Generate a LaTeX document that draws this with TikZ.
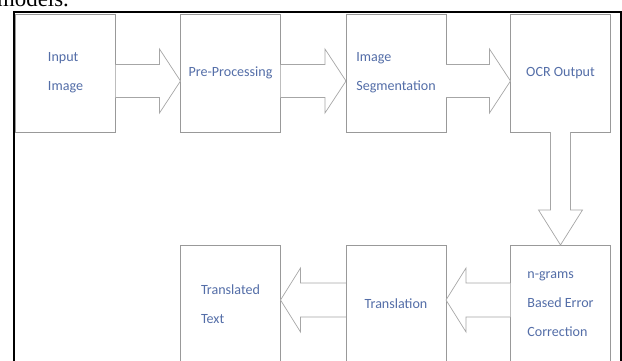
\documentclass[tikz,border=0pt]{standalone}
\usepackage{fontspec}
\setmainfont{Carlito}
\newfontfamily\paperfont{Liberation Serif}
\usetikzlibrary{calc}
\definecolor{boxtext}{rgb}{0.33,0.43,0.66}
\tikzset{
  stage/.style={draw=black!40,line width=1pt,fill=white,minimum width=4cm,minimum height=4.72cm,
    inner sep=0pt,outer sep=0pt,text=boxtext,align=left,font=\fontsize{16}{33}\selectfont},
  hollow/.style={draw=black!35,line width=0.8pt,fill=white,line join=miter}
}
\begin{document}
\begin{tikzpicture}[x=0.04cm,y=-0.04cm]
    \useasboundingbox (0,0) rectangle (622,361);
    % Text der Seite und Rahmen
    \node[font=\paperfont\fontsize{26}{30}\selectfont,anchor=base west,inner sep=0pt] (txt) at (-3,6) {models.};
    \draw[line width=1.5pt] (14,380) -- (14,12) -- (621,12) -- (621,380);
    % Bloecke
    \node[stage] (in) at (65.5,73) {Input\\Image};
    \node[stage] (pre) at (230.5,73) {Pre-Processing};
    \node[stage] (seg) at (396,73) {Image\\Segmentation};
    \node[stage] (ocr) at (560.5,73) {OCR Output};
    \node[stage] (err) at (560.5,304) {n-grams\\Based Error\\Correction};
    \node[stage] (trans) at (396,304) {Translation};
    \node[stage] (out) at (230.5,304) {Translated\\Text};
    % Pfeile nach rechts
    \foreach \a/\b in {in/pre,pre/seg,seg/ocr}
    \draw[hollow] ($(\a.east)+(0,-8.5)$) -- ($(\b.west)+(-21,-8.5)$) -- ($(\b.west)+(-21,-24)$)
      -- ($(\b.west)+(0,8)$) -- ($(\b.west)+(-21,40)$) -- ($(\b.west)+(-21,24.5)$) -- ($(\a.east)+(0,24.5)$);
    % Pfeil nach unten
    \draw[hollow] ($(ocr.south)+(-10,0)$) -- ($(err.north)+(-10,-35)$) -- ($(err.north)+(-22,-35)$)
      -- (err.north) -- ($(err.north)+(22,-35)$) -- ($(err.north)+(10,-35)$) -- ($(ocr.south)+(10,0)$);
    % Pfeile nach links
    \foreach \a/\b in {err/trans,trans/out}
    \draw[hollow] ($(\a.west)+(0,-21)$) -- ($(\b.east)+(20,-21)$) -- ($(\b.east)+(20,-36)$)
      -- ($(\b.east)+(0,-4)$) -- ($(\b.east)+(20,28)$) -- ($(\b.east)+(20,13)$) -- ($(\a.west)+(0,13)$);
  \end{tikzpicture}
\end{document}
